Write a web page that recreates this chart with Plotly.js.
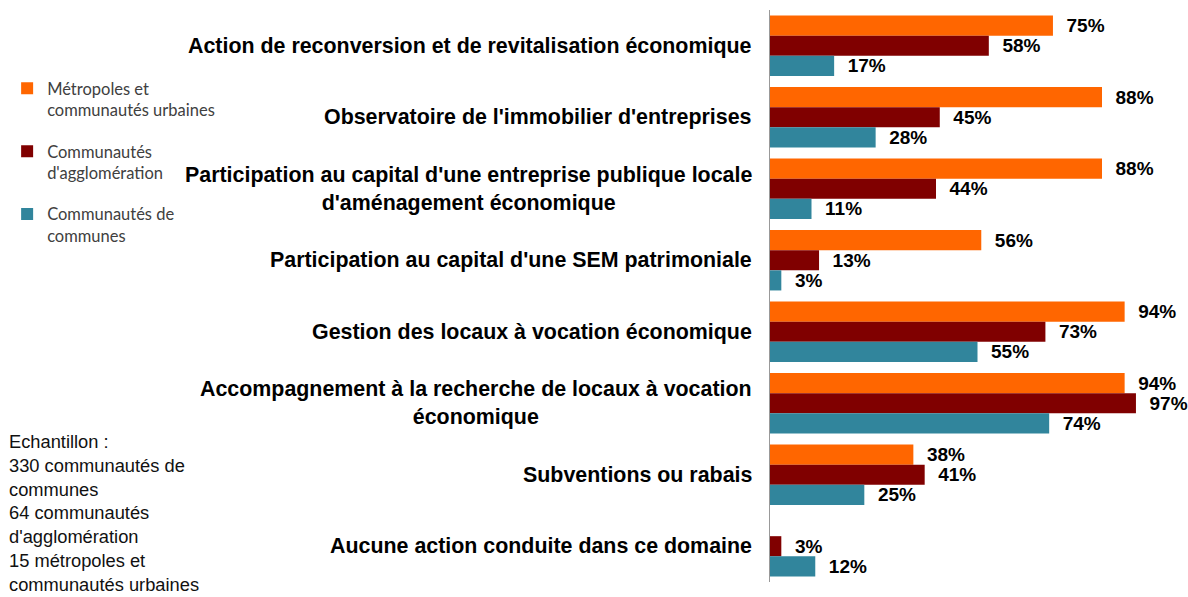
<!DOCTYPE html>
<html>
<head>
<meta charset="utf-8">
<script src="https://cdn.plot.ly/plotly-3.0.1.min.js"></script>
<style>html,body{margin:0;padding:0;background:#fff;}#chart{width:1188px;height:597px;}</style>
</head>
<body>
<div id="chart"></div>
<script>
const categories = [
  "Action de reconversion et de revitalisation économique",
  "Observatoire de l'immobilier d'entreprises",
  "Participation au capital d'une entreprise publique locale<br>d'aménagement économique",
  "Participation au capital d'une SEM patrimoniale",
  "Gestion des locaux à vocation économique",
  "Accompagnement à la recherche de locaux à vocation<br>économique",
  "Subventions ou rabais",
  "Aucune action conduite dans ce domaine"
];
const seriesNames = [
  "Métropoles et<br>communautés urbaines",
  "Communautés<br>d'agglomération",
  "Communautés de<br>communes"
];
const metropoles = [75, 88, 88, 56, 94, 94, 38, null];
const agglomeration = [58, 45, 44, 13, 73, 97, 41, 3];
const communes = [17, 28, 11, 3, 55, 74, 25, 12];
const colors = ["#FF6600", "#800000", "#31859C"];
const sampleText = "Echantillon :<br>330 communautés de<br>communes<br>64 communautés<br>d'agglomération<br>15 métropoles et<br>communautés urbaines";

const allSeries = [metropoles, agglomeration, communes];
const traces = allSeries.map((vals, i) => ({
  type: "bar",
  orientation: "h",
  name: seriesNames[i],
  legendgroup: "g" + i,
  y: categories,
  x: vals,
  marker: {color: colors[i]},
  texttemplate: "\u00a0\u00a0%{x}%",
  textposition: "outside",
  constraintext: "none",
  cliponaxis: false,
  textfont: {family: "Arial, 'Liberation Sans', sans-serif", size: 19, color: "#000", weight: "bold"},
  hoverinfo: "skip"
}));

const annotations = categories.map(c => ({
  xref: "paper", yref: "y",
  x: -0.039, y: c,
  xanchor: "right", yanchor: "middle",
  align: "center",
  text: "<b>" + c + "</b>",
  showarrow: false,
  font: {family: "Arial, 'Liberation Sans', sans-serif", size: 21.4, color: "#000"}
}));
annotations.push({
  xref: "paper", yref: "paper",
  x: -1.838, y: 0.1215,
  xanchor: "left", yanchor: "middle",
  align: "left",
  text: sampleText,
  showarrow: false,
  font: {family: "Arial, 'Liberation Sans', sans-serif", size: 18.3, color: "#111"}
});

const layout = {
  width: 1188, height: 597,
  margin: {l: 770, r: 3, t: 10, b: 15, pad: 0},
  paper_bgcolor: "#fff", plot_bgcolor: "#fff",
  barmode: "group",
  bargap: 0.155,
  bargroupgap: 0,
  showlegend: true,
  legend: {
    xref: "container", yref: "container",
    x: 0.006, y: 1 - 71/597,
    xanchor: "left", yanchor: "top",
    traceorder: "grouped",
    tracegroupgap: 17,
    valign: "top",
    font: {family: "Lato, 'Open Sans', sans-serif", size: 16.5, color: "#404040"},
    bgcolor: "rgba(0,0,0,0)"
  },
  xaxis: {range: [0, 110], showgrid: false, zeroline: false, showticklabels: false, ticks: "", showline: false, fixedrange: true},
  yaxis: {autorange: "reversed", showticklabels: false, ticks: "", showgrid: false, zeroline: false,
          showline: true, linecolor: "#999", linewidth: 1.5, fixedrange: true},
  annotations: annotations
};

Plotly.newPlot("chart", traces, layout, {displayModeBar: false, staticPlot: true});
</script>
</body>
</html>
